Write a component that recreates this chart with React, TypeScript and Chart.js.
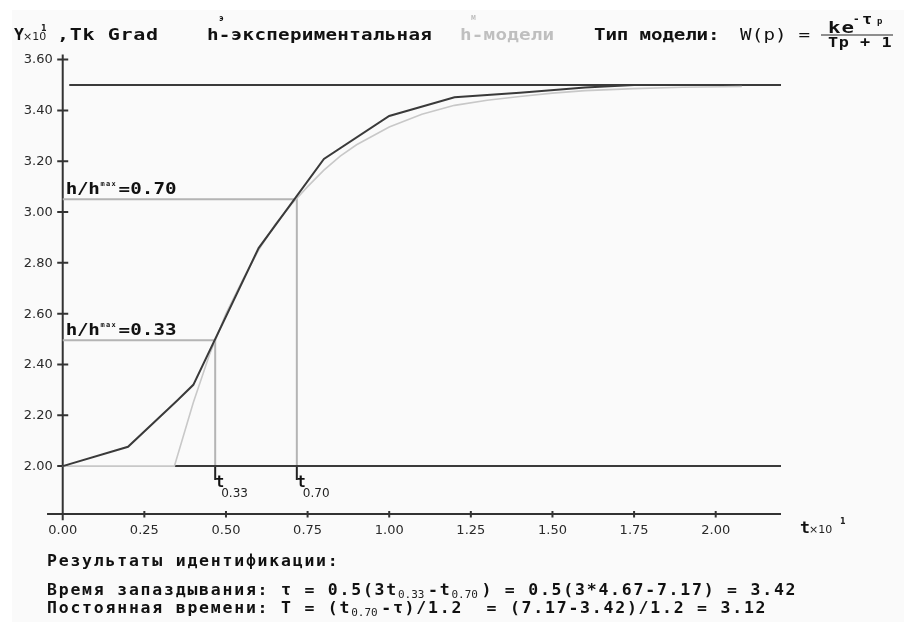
import React, { useEffect, useRef } from "react";
import { Chart, registerables } from "chart.js";

Chart.register(...registerables);

// ---- data (t in units of x10, Y in units of x10) ----
const expT = [0, 0.2, 0.35, 0.4, 0.6, 0.8, 1.0, 1.2, 1.4, 1.6, 1.75];
const expY = [2.0, 2.076, 2.257, 2.32, 2.858, 3.209, 3.378, 3.452, 3.47, 3.49, 3.5];

const modelT = [0, 0.342, 0.4, 0.45, 0.5, 0.55, 0.6, 0.65, 0.7, 0.75, 0.8, 0.85, 0.9, 1.0, 1.1, 1.2, 1.3, 1.4, 1.5, 1.6, 1.75, 1.9, 2.08];
const modelY = [2.0, 2.0, 2.25, 2.44, 2.6, 2.73, 2.85, 2.95, 3.03, 3.1, 3.165, 3.22, 3.265, 3.335, 3.385, 3.42, 3.44, 3.455, 3.468, 3.478, 3.486, 3.491, 3.494];

const yTicks = [2.0, 2.2, 2.4, 2.6, 2.8, 3.0, 3.2, 3.4, 3.6];
const xTicks = [0, 0.25, 0.5, 0.75, 1.0, 1.25, 1.5, 1.75, 2.0];

const hStart = 2.0; // initial level
const hSteady = 3.5; // steady-state level
const tau = 0.342; // delay
const tEnd = 2.2;
const steadyFrom = 0.02;
const levelFractions = [0.33, 0.7];
const levelTimes = [0.467, 0.717];
const levelValues = [2.495, 3.05];
const tickBottom = 1.945;

const headerTitle = ",Tk Grad";
const expLabel = "h-экспериментальная";
const modelLabel = "h-модели";
const typeLabel = "Тип модели:";
const resultsTitle = "Результаты идентификации:";
const delayLine = ["Время запаздывания: τ = 0.5(3t", "0.33", "-t", "0.70", ") = 0.5(3*4.67-7.17) = 3.42"];
const constLine = ["Постоянная времени: T = (t", "0.70", "-τ)/1.2  = (7.17-3.42)/1.2 = 3.12"];

// axis extents
const X_MIN = -0.05;
const X_MAX = 2.2;
const Y_MIN = 1.78;
const Y_MAX = 3.63;
const xAxisFrom = -0.048;
const xAxisAt = 1.811;
const yAxisTop = 3.62;
const yAxisBottom = 1.787;

const MONO = "'DejaVu Sans Mono', monospace";
const SANS = "'DejaVu Sans', sans-serif";

function wide(
  ctx: CanvasRenderingContext2D,
  text: string,
  x: number,
  y: number,
  size: number,
  advance: number,
  opts: { bold?: boolean; color?: string; scaleX?: number; family?: string } = {}
) {
  const bold = opts.bold !== false;
  const sx = opts.scaleX ?? 1.2;
  ctx.save();
  ctx.font = `${bold ? "bold " : ""}${size}px ${opts.family ?? MONO}`;
  ctx.fillStyle = opts.color ?? "#111";
  ctx.textBaseline = "alphabetic";
  ctx.textAlign = "left";
  ctx.translate(x, y);
  ctx.scale(sx, 1);
  const natural = ctx.measureText("0").width;
  const ls = advance / sx - natural;
  (ctx as any).letterSpacing = `${ls}px`;
  ctx.fillText(text, 0, 0);
  ctx.restore();
  return x + advance * [...text].length;
}

function plain(
  ctx: CanvasRenderingContext2D,
  text: string,
  x: number,
  y: number,
  font: string,
  color = "#111",
  align: CanvasTextAlign = "left",
  baseline: CanvasTextBaseline = "alphabetic"
) {
  ctx.save();
  ctx.font = font;
  ctx.fillStyle = color;
  ctx.textAlign = align;
  ctx.textBaseline = baseline;
  ctx.fillText(text, x, y);
  ctx.restore();
}

const decorPlugin = {
  id: "decor",
  beforeDraw(chart: any) {
    const ctx: CanvasRenderingContext2D = chart.ctx;
    ctx.save();
    ctx.fillStyle = "#ffffff";
    ctx.fillRect(0, 0, chart.width, chart.height);
    ctx.fillStyle = "#fafafa";
    ctx.fillRect(12, 10, chart.width - 12, chart.height - 10);
    ctx.restore();
  },
  beforeDatasetsDraw(chart: any) {
    const ctx: CanvasRenderingContext2D = chart.ctx;
    const xs = chart.scales.x;
    const ys = chart.scales.y;
    const x0 = xs.getPixelForValue(0);
    const y0 = ys.getPixelForValue(xAxisAt);
    ctx.save();
    ctx.strokeStyle = "#333";
    ctx.lineWidth = 2;
    ctx.beginPath();
    ctx.moveTo(x0, ys.getPixelForValue(yAxisTop));
    ctx.lineTo(x0, ys.getPixelForValue(yAxisBottom));
    ctx.moveTo(xs.getPixelForValue(xAxisFrom), y0);
    ctx.lineTo(xs.getPixelForValue(X_MAX), y0);
    for (const v of yTicks) {
      const py = ys.getPixelForValue(v);
      ctx.moveTo(x0 - 5.5, py);
      ctx.lineTo(x0 + 5.5, py);
    }
    for (const v of xTicks) {
      const px = xs.getPixelForValue(v);
      ctx.moveTo(px, y0 - 3);
      ctx.lineTo(px, y0 + 3.5);
    }
    ctx.stroke();
    ctx.restore();

    for (const v of yTicks) {
      plain(ctx, v.toFixed(2), x0 - 10, ys.getPixelForValue(v) + 0.5, `13px ${SANS}`, "#2a2a2a", "right", "middle");
    }
    for (const v of xTicks) {
      plain(ctx, v.toFixed(2), xs.getPixelForValue(v), y0 + 10, `13px ${SANS}`, "#2a2a2a", "center", "top");
    }
  },
  afterDraw(chart: any) {
    const ctx: CanvasRenderingContext2D = chart.ctx;
    const xs = chart.scales.x;
    const ys = chart.scales.y;

    // header
    wide(ctx, "Y", 14, 40, 15, 10, { scaleX: 1.1 });
    plain(ctx, "×10", 23, 40, `11px ${SANS}`, "#222");
    plain(ctx, "1", 41, 31, `bold 8px ${SANS}`, "#222");
    wide(ctx, headerTitle, 57, 40, 16, 12.7, { scaleX: 1.25 });

    wide(ctx, expLabel, 207, 40, 16, 11.85);
    wide(ctx, "э", 219, 21, 8, 6, { scaleX: 1 });
    wide(ctx, modelLabel, 460, 40, 16, 11.8, { color: "#bfbfbf" });
    wide(ctx, "м", 471, 20, 8, 6, { scaleX: 1, color: "#bfbfbf" });
    wide(ctx, typeLabel, 594, 40, 16, 11.4);
    wide(ctx, "W(p) =", 740, 40, 16, 11.7, { bold: false });
    // fraction k e^{-τp} / (Tp + 1)
    wide(ctx, "ke", 828, 33, 16, 13.5, { scaleX: 1.3 });
    wide(ctx, "-", 853, 22, 11, 6, { scaleX: 1 });
    wide(ctx, "τ", 862, 24, 14, 10, { scaleX: 1.2 });
    wide(ctx, "p", 877, 24, 9, 6, { scaleX: 1 });
    ctx.save();
    ctx.strokeStyle = "#222";
    ctx.lineWidth = 1.2;
    ctx.beginPath();
    ctx.moveTo(821, 35);
    ctx.lineTo(893, 35);
    ctx.stroke();
    ctx.restore();
    wide(ctx, "Tp + 1", 828, 47, 14, 10.7, { scaleX: 1.2 });

    // x-axis unit
    const y0 = ys.getPixelForValue(xAxisAt);
    wide(ctx, "t", 800, y0 + 19, 15, 8, { scaleX: 1.1 });
    plain(ctx, "×10", 809, y0 + 19, `11px ${SANS}`, "#222");
    plain(ctx, "1", 840, y0 + 10, `bold 8px ${SANS}`, "#222");

    // level labels and t-markers
    levelFractions.forEach((f, i) => {
      const py = ys.getPixelForValue(levelValues[i]);
      const bx = xs.getPixelForValue(0) + 3;
      const nx = wide(ctx, "h/h", bx, py - 5, 16, 11.3);
      wide(ctx, "max", nx + 1, py - 13, 7, 5.5, { scaleX: 1 });
      wide(ctx, "=" + f.toFixed(2), nx + 19, py - 5, 16, 11.6);

      const px = xs.getPixelForValue(levelTimes[i]);
      const pb = ys.getPixelForValue(tickBottom);
      wide(ctx, "t", px, pb + 7, 15, 8, { scaleX: 1 });
      plain(ctx, f.toFixed(2), px + 6, pb + 17, `12px ${SANS}`, "#222");
    });

    // results
    const adv = 11.7;
    const sub = `11px ${MONO}`;
    const o = { scaleX: 1.1 };
    wide(ctx, resultsTitle, 47, 566, 15, adv, o);

    let x = wide(ctx, delayLine[0], 47, 595, 15, adv, o);
    plain(ctx, delayLine[1], x, 598, sub, "#222");
    x = wide(ctx, delayLine[2], x + 30, 595, 15, adv, o);
    plain(ctx, delayLine[3], x, 598, sub, "#222");
    wide(ctx, delayLine[4], x + 30, 595, 15, adv, o);

    x = wide(ctx, constLine[0], 47, 613, 15, adv, o);
    plain(ctx, constLine[1], x, 616, sub, "#222");
    wide(ctx, constLine[2], x + 30, 613, 15, adv, o);
  },
};

function pts(ts: number[], vs: number[]) {
  return ts.map((t, i) => ({ x: t, y: vs[i] }));
}

export default function App() {
  const ref = useRef<HTMLCanvasElement | null>(null);

  useEffect(() => {
    if (!ref.current) return;
    const datasets: any[] = [
      { label: "h-экспериментальная", data: pts(expT, expY), borderColor: "#3a3a3a", borderWidth: 2 },
      { label: "h-модели", data: pts(modelT, modelY), borderColor: "#c8c8c8", borderWidth: 1.6 },
      { label: "steady", data: [{ x: steadyFrom, y: hSteady }, { x: tEnd, y: hSteady }], borderColor: "#3a3a3a", borderWidth: 2 },
      { label: "initial", data: [{ x: tau, y: hStart }, { x: tEnd, y: hStart }], borderColor: "#3a3a3a", borderWidth: 2 },
    ];
    levelFractions.forEach((f, i) => {
      datasets.push({
        label: `level ${f}`,
        data: [
          { x: 0, y: levelValues[i] },
          { x: levelTimes[i], y: levelValues[i] },
          { x: levelTimes[i], y: hStart },
        ],
        borderColor: "#b4b4b4",
        borderWidth: 2,
      });
      datasets.push({
        label: `mark ${f}`,
        data: [
          { x: levelTimes[i], y: hStart },
          { x: levelTimes[i], y: tickBottom },
        ],
        borderColor: "#222",
        borderWidth: 2,
      });
    });

    const chart = new Chart(ref.current, {
      type: "line",
      data: { datasets },
      options: {
        responsive: false,
        devicePixelRatio: 1,
        animation: false,
        layout: { padding: { left: 46.4, right: 123, top: 52, bottom: 100 } },
        elements: { point: { radius: 0 }, line: { tension: 0, fill: false } },
        plugins: { legend: { display: false }, tooltip: { enabled: false }, title: { display: false } },
        scales: {
          x: { type: "linear", min: X_MIN, max: X_MAX, display: false },
          y: { type: "linear", min: Y_MIN, max: Y_MAX, display: false },
        },
      } as any,
      plugins: [decorPlugin as any],
    });
    return () => chart.destroy();
  }, []);

  return (
    <div style={{ position: "fixed", left: 0, top: 0, width: 904, height: 622 }}>
      <canvas ref={ref} width={904} height={622} style={{ display: "block" }} />
    </div>
  );
}
